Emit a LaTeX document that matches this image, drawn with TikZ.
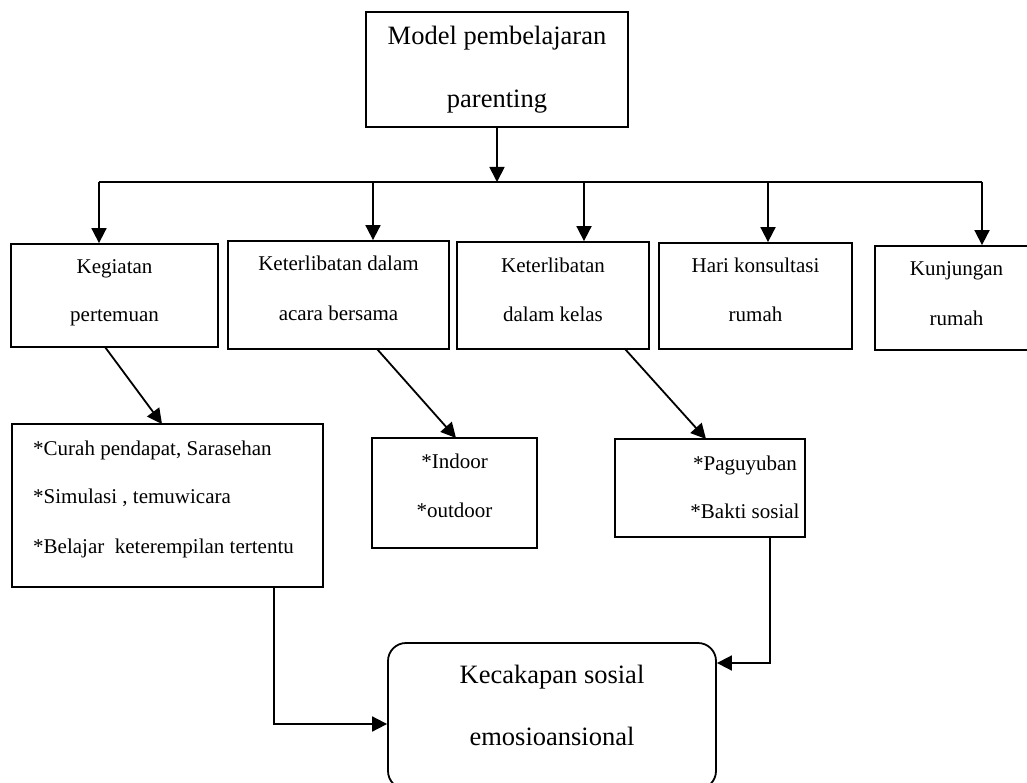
\documentclass[tikz,border=0pt]{standalone}
\usepackage{fontspec}
\setmainfont{Liberation Serif}
\usetikzlibrary{arrows.meta}
\begin{document}
\begin{tikzpicture}[x=1pt,y=-1pt,
  box/.style={draw, line width=1.8pt, inner sep=0pt},
  rbox/.style={box, rounded corners=18pt},
  big/.style={font=\fontsize{26.5}{30}\selectfont, anchor=base, inner sep=0pt},
  small/.style={font=\fontsize{21}{24}\selectfont, anchor=base, inner sep=0pt},
  link/.style={line width=1.8pt},
  arr/.style={link, -{Triangle[length=15pt,width=15pt]}}]
\path[use as bounding box, fill=white] (0,0) rectangle (1027,783);

% boxes
\node[box, minimum width=262pt, minimum height=115pt] (top) at (497,69.5) {};
\node[box, minimum width=207pt, minimum height=103pt] (b1) at (114.5,295.5) {};
\node[box, minimum width=221pt, minimum height=108pt] (b2) at (338.5,295) {};
\node[box, minimum width=192pt, minimum height=107pt] (b3) at (553,295.5) {};
\node[box, minimum width=193pt, minimum height=106pt] (b4) at (755.5,296) {};
\node[box, minimum width=162pt, minimum height=104pt] (b5) at (956,298) {};
\node[box, minimum width=311pt, minimum height=163pt] (b6) at (167.5,505.5) {};
\node[box, minimum width=165pt, minimum height=110pt] (b7) at (454.5,493) {};
\node[box, minimum width=190pt, minimum height=98pt] (b8) at (710,488) {};
\node[rbox, minimum width=328pt, minimum height=146pt] (goal) at (552,716) {};

% texts
\node[big] (t1a) at (497,45) {Model pembelajaran};
\node[big] (t1b) at (497,108) {parenting};
\node[small] (k1a) at (114.5,274) {Kegiatan};
\node[small] (k1b) at (114.5,322) {pertemuan};
\node[small] (k2a) at (338.5,271) {Keterlibatan dalam};
\node[small] (k2b) at (338.5,320) {acara bersama};
\node[small] (k3a) at (553,273) {Keterlibatan};
\node[small] (k3b) at (553,322) {dalam kelas};
\node[small] (k4a) at (755.5,273) {Hari konsultasi};
\node[small] (k4b) at (755.5,322) {rumah};
\node[small] (k5a) at (956.5,276) {Kunjungan};
\node[small] (k5b) at (956.5,325) {rumah};
\node[small, anchor=base west] (s1a) at (33,455) {*Curah pendapat, Sarasehan};
\node[small, anchor=base west] (s1b) at (33,503) {*Simulasi , temuwicara};
\node[small, anchor=base west] (s1c) at (33,553) {*Belajar\ \ keterempilan tertentu};
\node[small] (s2a) at (454.5,468) {*Indoor};
\node[small] (s2b) at (454.5,517) {*outdoor};
\node[small] (s3a) at (745,470) {*Paguyuban};
\node[small] (s3b) at (745,518) {*Bakti sosial};
\node[big] (ga) at (552,683) {Kecakapan sosial};
\node[big] (gb) at (552,745) {emosioansional};

% distribution bar
\coordinate (hub) at (497,182);
\coordinate (c1) at (99,182);
\coordinate (c2) at (373,182);
\coordinate (c3) at (584,182);
\coordinate (c4) at (768,182);
\coordinate (c5) at (982,182);
\draw[arr] (top.south) -- (hub);
\draw[link] (c1) -- (c5);
\draw[arr] (c1) -- (c1 |- b1.north);
\draw[arr] (c2) -- (c2 |- b2.north);
\draw[arr] (c3) -- (c3 |- b3.north);
\draw[arr] (c4) -- (c4 |- b4.north);
\draw[arr] (c5) -- (c5 |- b5.north);

% diagonal links
\coordinate (d1s) at (105,347);
\coordinate (d1e) at (162,424);
\coordinate (d2s) at (377,349);
\coordinate (d2e) at (456,438);
\coordinate (d3s) at (625,349);
\coordinate (d3e) at (706,439);
\draw[arr] (d1s) -- (d1e);
\draw[arr] (d2s) -- (d2e);
\draw[arr] (d3s) -- (d3e);

% elbow links into the result box
\coordinate (e1) at (274,724);
\coordinate (e2) at (770,663);
\draw[arr] (e1 |- b6.south) -- (e1) -- (e1 -| goal.west);
\draw[arr] (e2 |- b8.south) -- (e2) -- (e2 -| goal.east);
\end{tikzpicture}
\end{document}
